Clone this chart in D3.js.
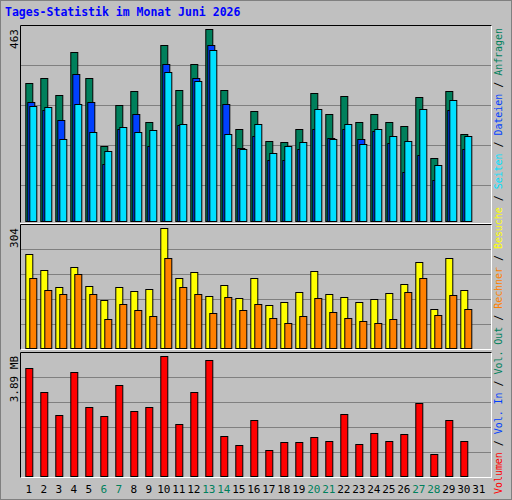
<!DOCTYPE html>
<html><head><meta charset="utf-8">
<script src="https://cdn.jsdelivr.net/npm/d3@7"></script>
<style>body{margin:0;background:#fff}</style></head>
<body><svg id="c" width="512" height="500"></svg>
<script>
const days = d3.range(1, 32);
const weekend = [6,7,13,14,20,21,27,28];
const anfragen = [332,344,303,407,344,182,279,313,238,425,315,379,463,315,223,265,194,190,221,308,257,301,238,257,238,228,298,153,313,211];
const dateien  = [286,268,243,354,286,137,221,257,180,378,231,344,424,281,177,206,148,148,173,221,199,221,197,216,187,117,158,98,267,173];
const seiten   = [277,274,197,281,214,168,226,214,219,359,233,337,412,209,173,233,163,182,190,269,197,233,185,223,206,194,269,134,291,204];
const besuche  = [238,198,155,205,157,122,155,144,149,304,177,193,132,160,127,177,109,117,142,195,137,129,117,124,139,162,218,99,228,147];
const rechner  = [177,147,137,187,137,73,111,96,81,228,155,137,89,129,96,111,76,63,81,127,91,76,68,63,73,142,177,84,134,99];
const volumen  = [3.50,2.72,1.97,3.37,2.23,1.93,2.94,2.10,2.23,3.89,1.67,2.72,3.76,1.31,0.99,1.80,0.83,1.09,1.09,1.25,1.15,2.00,1.05,1.41,1.15,1.35,2.36,0.70,1.80,1.12];
const maxLabels = ["463","304","3.89 MB"];

const svg = d3.select("#c");
const font = "'DejaVu Sans Mono', monospace";
svg.append("rect").attr("x",0).attr("y",0).attr("width",512).attr("height",500).attr("fill","#c0c0c0");
svg.append("rect").attr("x",0.5).attr("y",0.5).attr("width",511).attr("height",499).attr("fill","none").attr("stroke","#808080");
svg.append("text").attr("x",5).attr("y",16).attr("fill","#0000ff").attr("font-family",font).attr("font-weight","bold").attr("font-size",11.5).text("Tages-Statistik im Monat Juni 2026");

const x = d3.scaleBand().domain(days).range([20.3, 485.3]);
const panels = [{top:25,bot:221},{top:224,bot:348},{top:352,bot:476}];
panels.forEach((p,i)=>{
  svg.append("rect").attr("x",20.5).attr("y",p.top+0.5).attr("width",471).attr("height",p.bot-p.top+ (i==0?2:1)).attr("fill","#c0c0c0").attr("stroke","#fff");
  svg.append("path").attr("d",`M20.5,${p.bot+1.5}V${p.top+0.5}H491.5`).attr("stroke","#000").attr("fill","none");
  const step=(p.bot+ (i==0?4:1) - p.top)/5;
  for(let k=1;k<5;k++) svg.append("line").attr("x1",21).attr("x2",491).attr("y1",Math.round(p.top+k*step)+0.5).attr("y2",Math.round(p.top+k*step)+0.5).attr("stroke","#808080");
  svg.append("text").attr("transform",`translate(18,${p.top+4}) rotate(-90)`).attr("text-anchor","end").attr("font-family",font).attr("font-size",11).attr("fill","#000").text(maxLabels[i]);
});

function bars(data, max, p, off, color, w){
  const y = d3.scaleLinear().domain([0,max]).range([p.bot, p.top+4]);
  svg.append("g").selectAll("rect").data(data).join("rect")
    .attr("x",(d,i)=>x(i+1)+5+off+0.5).attr("y",d=>Math.round(y(d))+0.5)
    .attr("width",w).attr("height",d=>p.bot-Math.round(y(d)))
    .attr("fill",color).attr("stroke","#000");
}
bars(anfragen,463,panels[0],0,"#00805c",7);
bars(dateien,463,panels[0],2,"#0040ff",7);
bars(seiten,463,panels[0],4,"#00e0ff",7);
bars(besuche,304,panels[1],0,"#ffff00",7);
bars(rechner,304,panels[1],4,"#ff8000",7);
bars(volumen,3.89,panels[2],0,"#ff0000",7);

svg.append("g").selectAll("text").data(days).join("text")
  .attr("x",d=>x(d)+x.bandwidth()/2+1).attr("y",493).attr("text-anchor","middle")
  .attr("font-family",font).attr("font-size",11)
  .attr("fill",d=>weekend.includes(d)?"#00805c":"#000").text(d=>d);

const legend=[["Volumen","#ff0000"],[" / ","#000"],["Vol. In","#0040ff"],[" / ","#000"],["Vol. Out","#00805c"],[" / ","#000"],["Rechner","#ff8000"],[" / ","#000"],["Besuche","#ffff00"],[" / ","#000"],["Seiten","#00e0ff"],[" / ","#000"],["Dateien","#0040ff"],[" / ","#000"],["Anfragen","#00805c"]];
const lt=svg.append("text").attr("transform","translate(502,494) rotate(-90)").attr("font-family",font).attr("font-size",10)
  .attr("textLength",466).attr("lengthAdjust","spacingAndGlyphs");
legend.forEach(([t,c])=>lt.append("tspan").attr("fill",c).attr("xml:space","preserve").text(t));
</script></body></html>
